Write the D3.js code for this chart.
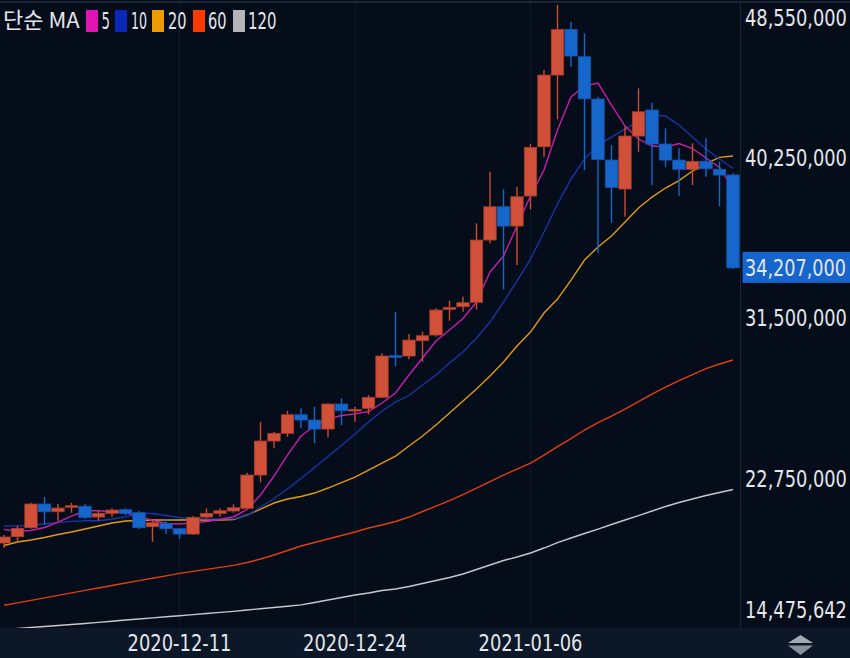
<!DOCTYPE html>
<html>
<head>
<meta charset="utf-8">
<script src="https://cdn.jsdelivr.net/npm/d3@7/dist/d3.min.js"></script>
<style>
	html, body { margin: 0; padding: 0; background: #050d1a; }
	svg { display: block; }
	.num { font-family: "Liberation Sans Narrow", "DejaVu Sans Condensed", sans-serif; font-size: 23px; fill: #e4e6ea; }
</style>
</head>
<body>
<svg id="chart" width="850" height="658"></svg>
<script>
// daily candles, prices in millions of KRW
const dates = [
	"2020-11-28","2020-11-29","2020-11-30","2020-12-01","2020-12-02","2020-12-03","2020-12-04","2020-12-05",
	"2020-12-06","2020-12-07","2020-12-08","2020-12-09","2020-12-10","2020-12-11","2020-12-12","2020-12-13",
	"2020-12-14","2020-12-15","2020-12-16","2020-12-17","2020-12-18","2020-12-19","2020-12-20","2020-12-21",
	"2020-12-22","2020-12-23","2020-12-24","2020-12-25","2020-12-26","2020-12-27","2020-12-28","2020-12-29",
	"2020-12-30","2020-12-31","2021-01-01","2021-01-02","2021-01-03","2021-01-04","2021-01-05","2021-01-06",
	"2021-01-07","2021-01-08","2021-01-09","2021-01-10","2021-01-11","2021-01-12","2021-01-13","2021-01-14",
	"2021-01-15","2021-01-16","2021-01-17","2021-01-18","2021-01-19","2021-01-20","2021-01-21"
];
const open = [
	19.206, 19.55, 20.04, 21.332, 20.913, 21.152, 21.207, 20.624, 20.825, 21.022, 20.858, 20.095, 20.28, 19.986,
	19.697, 20.624, 20.825, 20.951, 21.098, 22.913, 24.767, 25.187, 26.201, 25.912, 25.421, 26.784, 26.403, 26.55,
	27.149, 29.417, 29.401, 30.235, 30.546, 31.947, 32.089, 32.328, 35.725, 37.54, 36.488, 38.124, 40.811, 44.72,
	47.212, 45.718, 43.412, 40.086, 38.505, 41.395, 42.812, 40.959, 40.086, 39.579, 40.015, 39.579, 39.269
];
const high = [
	19.64, 20.133, 21.403, 21.714, 21.332, 21.403, 21.332, 20.967, 21.098, 21.098, 20.951, 20.498, 20.515, 20.0,
	20.678, 21.098, 21.098, 21.316, 23.039, 25.803, 25.274, 26.419, 26.55, 26.637, 26.822, 27.095, 26.637, 27.275,
	29.548, 31.816, 30.6, 30.726, 32.001, 32.416, 32.634, 36.635, 39.448, 38.489, 38.631, 40.959, 44.993, 48.55,
	47.626, 46.994, 43.537, 40.904, 41.902, 43.995, 43.21, 41.814, 40.724, 40.997, 41.269, 39.994, 39.361
];
const low = [
	18.934, 19.277, 20.0, 20.188, 20.422, 20.858, 20.515, 20.422, 20.64, 20.716, 19.97, 19.277, 19.697, 19.424,
	19.65, 20.553, 20.64, 20.858, 21.06, 22.516, 24.369, 25.001, 25.459, 24.641, 24.968, 25.639, 25.819, 26.223,
	27.1, 28.856, 29.221, 29.09, 30.453, 31.325, 31.816, 31.947, 35.545, 33.037, 34.362, 37.398, 40.266, 42.305,
	45.173, 39.541, 35.033, 36.668, 36.995, 40.539, 38.723, 39.721, 38.124, 38.723, 39.176, 37.578, 34.15
];
const close = [
	19.534, 20.008, 21.332, 20.913, 21.114, 21.239, 20.607, 20.825, 21.006, 20.825, 20.04, 20.313, 19.986, 19.697,
	20.607, 20.825, 20.967, 21.13, 22.913, 24.767, 25.187, 26.201, 25.912, 25.421, 26.784, 26.419, 26.495, 27.149,
	29.401, 29.33, 30.273, 30.508, 31.909, 32.056, 32.307, 35.725, 37.54, 36.488, 38.086, 40.779, 44.72, 47.212,
	45.756, 43.428, 40.124, 38.598, 41.395, 42.719, 40.959, 40.086, 39.579, 40.015, 39.612, 39.269, 34.207
];

// simple moving averages
const ma5 = [
	19.953, 19.833, 19.888, 20.052, 20.351, 20.678, 20.967, 20.967, 20.913, 20.869, 20.651, 20.433, 20.269, 20.242,
	20.307, 20.378, 20.487, 20.64, 21.033, 21.823, 22.859, 24.004, 25.04, 25.585, 25.966, 26.157, 26.25, 26.375,
	26.839, 27.384, 28.365, 29.292, 30.219, 30.818, 31.445, 32.345, 33.98, 34.853, 36.488, 38.124, 39.541, 41.722,
	43.521, 44.121, 44.284, 43.085, 41.94, 41.231, 40.85, 40.795, 40.986, 40.713, 40.195, 39.677, 38.56
];
const ma10 = [
	20.133, 20.144, 20.188, 20.242, 20.335, 20.389, 20.417, 20.422, 20.515, 20.635, 20.814, 20.814, 20.705, 20.585,
	20.541, 20.525, 20.525, 20.531, 20.705, 21.169, 21.632, 22.15, 22.723, 23.322, 23.922, 24.522, 25.149, 25.803,
	26.403, 26.893, 27.248, 27.82, 28.365, 29.019, 29.619, 30.382, 31.255, 32.345, 33.49, 34.689, 36.161, 37.688,
	39.05, 40.141, 40.904, 41.34, 41.776, 42.212, 42.54, 42.485, 41.994, 41.34, 40.686, 40.141, 39.623
];
const ma20 = [
	19.07, 19.261, 19.37, 19.506, 19.67, 19.806, 19.97, 20.133, 20.297, 20.406, 20.433, 20.46, 20.46, 20.46,
	20.46, 20.46, 20.46, 20.487, 20.733, 21.06, 21.387, 21.605, 21.741, 21.932, 22.205, 22.505, 22.804, 23.186,
	23.568, 23.949, 24.494, 25.04, 25.639, 26.293, 26.948, 27.602, 28.311, 29.074, 29.946, 30.709, 31.745, 32.508,
	33.544, 34.635, 35.343, 35.943, 36.706, 37.469, 38.069, 38.56, 38.969, 39.487, 39.895, 40.233, 40.304
];
const ma60 = [
	15.815, 15.946, 16.082, 16.218, 16.355, 16.491, 16.627, 16.758, 16.889, 17.026, 17.156, 17.287, 17.418, 17.549,
	17.663, 17.772, 17.881, 17.99, 18.143, 18.334, 18.552, 18.797, 19.043, 19.234, 19.424, 19.615, 19.806, 20.024,
	20.188, 20.378, 20.624, 20.924, 21.223, 21.523, 21.85, 22.205, 22.559, 22.913, 23.241, 23.568, 24.004, 24.467,
	24.903, 25.367, 25.776, 26.13, 26.512, 26.92, 27.329, 27.711, 28.065, 28.392, 28.719, 28.965, 29.183
];
const ma120 = [
	14.476, 14.545, 14.6, 14.654, 14.709, 14.763, 14.823, 14.878, 14.938, 15.008, 15.063, 15.128, 15.188, 15.243,
	15.303, 15.363, 15.423, 15.483, 15.554, 15.625, 15.69, 15.761, 15.837, 15.963, 16.099, 16.235, 16.371, 16.48,
	16.617, 16.698, 16.835, 16.998, 17.162, 17.325, 17.516, 17.762, 18.007, 18.252, 18.443, 18.661, 18.934, 19.233,
	19.479, 19.724, 19.969, 20.215, 20.46, 20.705, 20.951, 21.196, 21.414, 21.605, 21.796, 21.959, 22.123
];

const maPeriods = ["5", "10", "20", "60", "120"];
const maSeries = [ma5, ma10, ma20, ma60, ma120];
const maLegendColors = ["#e014b4", "#0a28b8", "#f09a00", "#ff3a00", "#b4b5ba"];
const maLineColors = ["#c81eac", "#1636a8", "#e39a12", "#e53c12", "#c6c8ce"];

const dateTicks = ["2020-12-11", "2020-12-24", "2021-01-06"];
const priceTicks = [14475642, 22750000, 31500000, 40250000, 48550000];
const lastPrice = 34207000;
const UNIT = 1e6;

const W = 850, H = 658;
const plotW = 740, plotH = 628;

const svg = d3.select("#chart");

svg.append("rect").attr("width", W).attr("height", H).attr("fill", "#050d1a");
svg.append("rect").attr("y", plotH).attr("width", W).attr("height", H - plotH).attr("fill", "#0c1828");

const x = d3.scaleBand()
	.domain(dates)
	.range([-2.75, -2.75 + dates.length * 13.5])
	.padding(0);
const cx = d => x(d) + x.bandwidth() / 2;

const y = d3.scaleLinear()
	.domain([14475642, 48550000])
	.range([629.8, 4.8]);

// grid
svg.append("g")
	.selectAll("line")
	.data(dateTicks)
	.enter()
	.append("line")
	.attr("x1", cx).attr("x2", cx)
	.attr("y1", 0).attr("y2", plotH)
	.attr("stroke", "#0e1929")
	.attr("stroke-width", 1);

svg.append("line")
	.attr("x1", 0).attr("x2", W).attr("y1", 2).attr("y2", 2)
	.attr("stroke", "#1b2535").attr("stroke-width", 2);

svg.append("line")
	.attr("x1", plotW + 0.5).attr("x2", plotW + 0.5).attr("y1", 0).attr("y2", plotH)
	.attr("stroke", "#1a2434").attr("stroke-width", 1);

svg.append("clipPath").attr("id", "plot-clip")
	.append("rect").attr("width", plotW).attr("height", plotH);

const plot = svg.append("g").attr("clip-path", "url(#plot-clip)");

// moving averages, longest first
const line = d3.line()
	.x((v, i) => cx(dates[i]))
	.y(v => y(v * UNIT));

for (let k = maSeries.length - 1; k >= 0; k--) {
	plot.append("path")
		.datum(maSeries[k])
		.attr("d", line)
		.attr("fill", "none")
		.attr("stroke", maLineColors[k])
		.attr("stroke-width", 1.4);
}

// candles
const candles = dates.map((d, i) => ({ date: d, o: open[i], h: high[i], l: low[i], c: close[i] }));
const up = d => d.c >= d.o;
const bodyW = 12.4;

const g = plot.selectAll("g.candle")
	.data(candles)
	.enter()
	.append("g")
	.attr("class", "candle");

g.append("line")
	.attr("x1", d => cx(d.date)).attr("x2", d => cx(d.date))
	.attr("y1", d => y(d.h * UNIT)).attr("y2", d => y(d.l * UNIT))
	.attr("stroke", d => up(d) ? "#cc4c32" : "#1766cc")
	.attr("stroke-width", 1.4);

g.append("rect")
	.attr("x", d => cx(d.date) - bodyW / 2)
	.attr("width", bodyW)
	.attr("y", d => y(Math.max(d.o, d.c) * UNIT))
	.attr("height", d => Math.max(1.5, Math.abs(y(d.o * UNIT) - y(d.c * UNIT))))
	.attr("fill", d => up(d) ? "#d0503a" : "#1766cc")
	.attr("stroke", d => up(d) ? "#a83c2a" : "#1458b0")
	.attr("stroke-width", 0.8);

// squeeze a label horizontally to the width it has in the original
function fit(sel, w) {
	sel.each(function() {
		const t = d3.select(this);
		const sx = Math.min(1, w / this.getComputedTextLength());
		const x0 = +t.attr("x") || 0;
		t.attr("x", x0 / sx).attr("transform", `scale(${sx},1)`);
	});
}

// price axis
const yAxis = svg.append("g")
	.attr("transform", `translate(${plotW},0)`)
	.call(d3.axisRight(y)
		.tickValues(priceTicks)
		.tickSize(0)
		.tickPadding(5)
		.tickFormat(d3.format(",")));
yAxis.select(".domain").remove();
yAxis.selectAll("text")
	.attr("class", "num")
	.attr("fill", null)
	.attr("font-size", null)
	.attr("font-family", null)
	.attr("dy", d => d === priceTicks[0] ? "-0.35em" : d === priceTicks[priceTicks.length - 1] ? "0.88em" : "0.35em")
	.attr("y", d => d === priceTicks[0] ? -4 : 0)
	.call(fit, 102);

// last price tag
const tag = svg.append("g").attr("transform", `translate(${plotW + 2.5},${y(lastPrice)})`);
tag.append("rect")
	.attr("x", 0).attr("y", -16).attr("width", W - plotW - 2.5).attr("height", 31)
	.attr("fill", "#1565cc");
tag.append("text")
	.attr("class", "num")
	.attr("x", 2.5).attr("dy", "0.35em")
	.attr("fill", "#ffffff")
	.text(d3.format(",")(lastPrice))
	.call(fit, 101);

// date axis
const xAxis = svg.append("g")
	.attr("transform", `translate(0,${plotH})`)
	.call(d3.axisBottom(x).tickValues(dateTicks).tickSize(0));
xAxis.select(".domain").remove();
xAxis.selectAll("text")
	.attr("class", "num")
	.attr("fill", null)
	.attr("font-size", null)
	.attr("font-family", null)
	.attr("y", 15)
	.attr("dy", "0.35em")
	.call(fit, 104);

// scroll arrows
svg.append("path").attr("d", "M788,643 L800.5,635 L813,643 Z").attr("fill", "#a4abb5");
svg.append("path").attr("d", "M788,645.5 L800.5,655 L813,645.5 Z").attr("fill", "#8a919b");

// legend
const legend = svg.append("g");
legend.append("text")
	.attr("x", 3).attr("y", 28)
	.attr("font-family", "'Noto Sans CJK KR', sans-serif")
	.attr("font-size", 22)
	.attr("fill", "#e4e6ea")
	.text("단순 MA")
	.call(fit, 79);

const swatchX = [86, 115, 152, 193, 233];
const labelX = [101.5, 131, 168, 208, 248];
const labelW = [8.5, 16, 18.5, 18.5, 28.5];
maPeriods.forEach((p, i) => {
	legend.append("rect")
		.attr("x", swatchX[i]).attr("y", 10).attr("width", 12).attr("height", 22)
		.attr("fill", maLegendColors[i]);
	legend.append("text")
		.attr("class", "num")
		.attr("x", labelX[i]).attr("y", 29)
		.text(p)
		.call(fit, labelW[i]);
});
</script>
</body>
</html>
